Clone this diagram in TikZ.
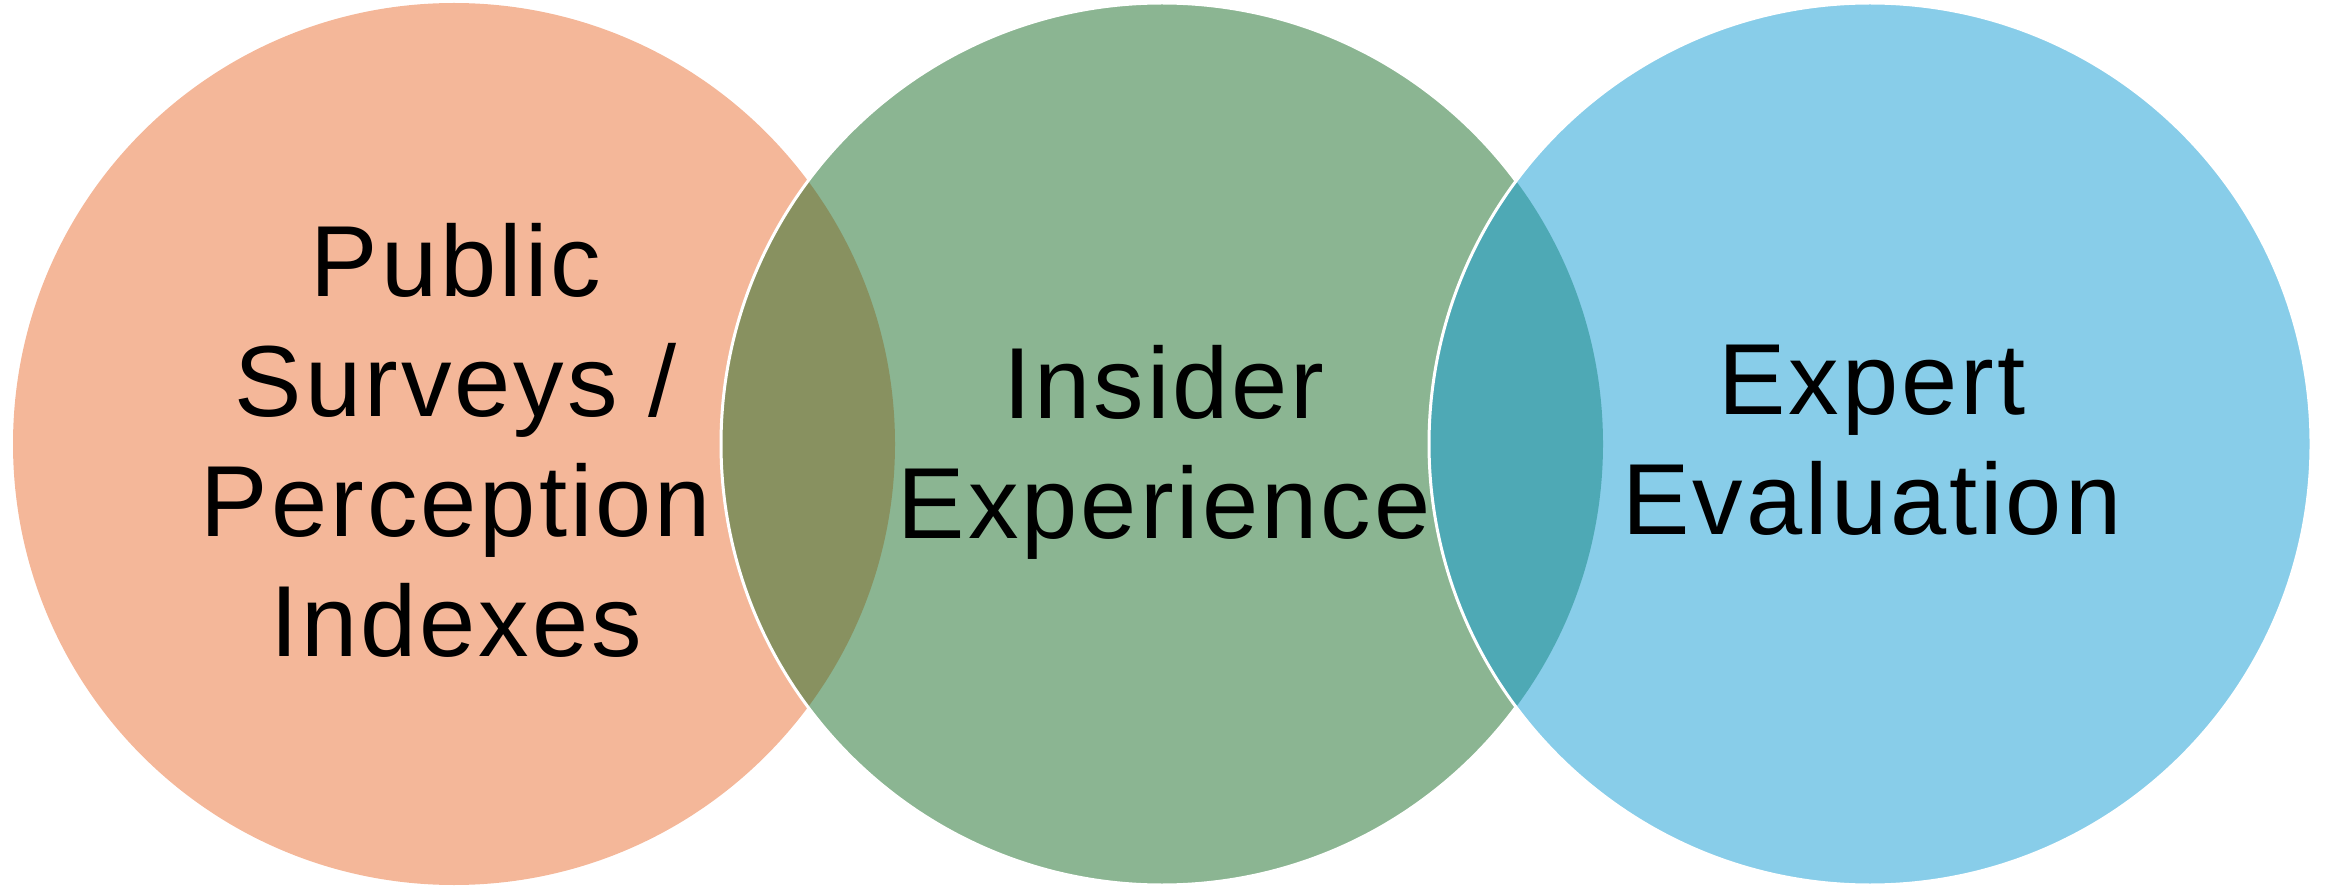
\documentclass[tikz,border=0pt]{standalone}
\usepackage{fontspec}
\setmainfont{Liberation Sans}
\newfontfamily\labelfont[LetterSpace=3]{Liberation Sans}
\definecolor{cOrange}{RGB}{244,183,153}
\definecolor{cGreen}{RGB}{139,181,146}
\definecolor{cBlue}{RGB}{136,205,233}
\definecolor{cOlive}{RGB}{136,145,96}
\definecolor{cTeal}{RGB}{78,169,181}
\begin{document}
\begin{tikzpicture}[x=1pt,y=1pt,
  disc/.style={circle,minimum size=882pt,inner sep=0pt,outer sep=0pt},
  rim/.style={draw=white,line width=3pt},
  label/.style={font=\labelfont\fontsize{101}{120}\selectfont,align=center,inner sep=0pt,anchor=north,text=black}]
\useasboundingbox (0,0) rectangle (2333,887);
% circle centres
\coordinate (p1) at (454,443);
\coordinate (p2) at (1162,443);
\coordinate (p3) at (1870,443);
% first two discs and their overlap
\node[disc,fill=cOrange] (c1) at (p1) {};
\node[disc,fill=cGreen] (c2) at (p2) {};
\begin{scope}
  \clip (p1) circle[radius=441pt];
  \fill[cOlive] (p2) circle[radius=441pt];
\end{scope}
\draw[rim] (p2) circle[radius=441pt];
% third disc and its overlap with the middle one
\node[disc,fill=cBlue] (c3) at (p3) {};
\begin{scope}
  \clip (p2) circle[radius=441pt];
  \fill[cTeal] (p3) circle[radius=441pt];
\end{scope}
\draw[rim] (p3) circle[radius=441pt];
% labels
\node[label] (t1) at (456,664) {Public\\Surveys /\\Perception\\Indexes};
\node[label] (t2) at (1164,542) {Insider\\Experience};
\node[label] (t3) at (1872,542) {Expert\\Evaluation};
\end{tikzpicture}
\end{document}
